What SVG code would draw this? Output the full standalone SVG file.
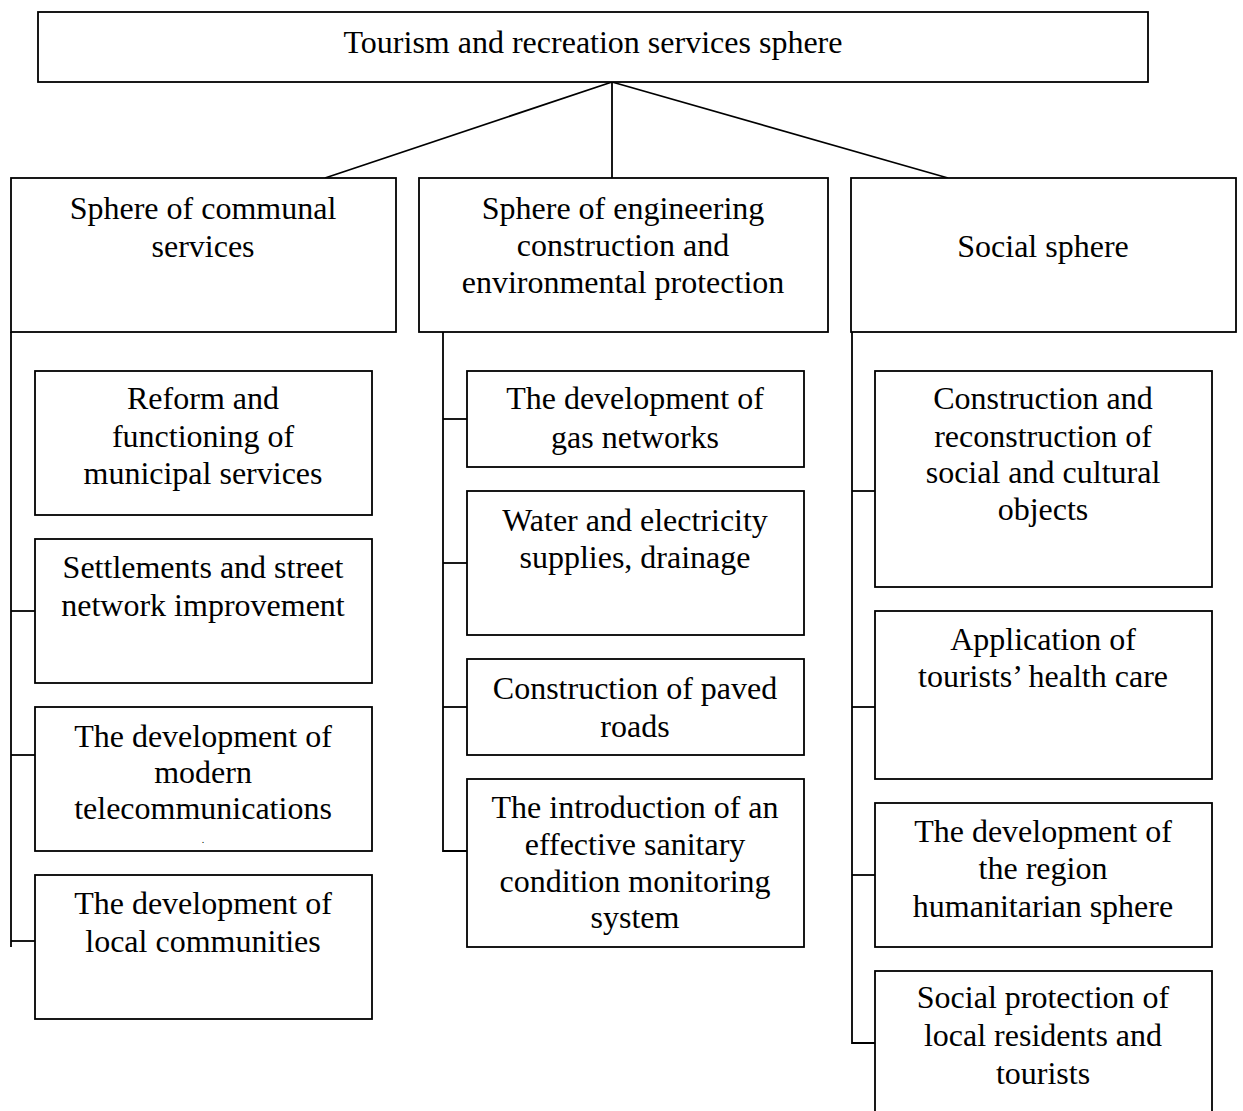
<svg xmlns="http://www.w3.org/2000/svg" width="1243" height="1111" viewBox="0 0 1243 1111">
<style>
rect{fill:#fff;stroke:#000;stroke-width:1.8}
.c line,.c path{stroke:#000;stroke-width:1.8;fill:none}
text{font-family:"Liberation Serif","Times New Roman",serif;font-size:32px;fill:#000;text-anchor:middle}
</style>
<rect width="1243" height="1111" style="fill:#fff;stroke:none"/>
<g class="c" id="connectors">
<line x1="612" y1="82" x2="325" y2="178"/>
<line x1="612" y1="82" x2="612" y2="178"/>
<line x1="612" y1="82" x2="948" y2="178"/>
<line x1="11" y1="332" x2="11" y2="947"/>
<line x1="11" y1="611" x2="35" y2="611"/>
<line x1="11" y1="755" x2="35" y2="755"/>
<line x1="11" y1="941" x2="35" y2="941"/>
<path d="M443 332V851H467"/>
<line x1="443" y1="419" x2="467" y2="419"/>
<line x1="443" y1="563" x2="467" y2="563"/>
<line x1="443" y1="707" x2="467" y2="707"/>
<path d="M852 332V1043H875"/>
<line x1="852" y1="491" x2="875" y2="491"/>
<line x1="852" y1="707" x2="875" y2="707"/>
<line x1="852" y1="875" x2="875" y2="875"/>
</g>
<g id="root"><rect x="38" y="12" width="1110" height="70"/><text x="593" y="53">Tourism and recreation services sphere</text></g>
<g id="communal"><rect x="11" y="178" width="385" height="154"/><text x="203" y="219">Sphere of communal</text><text x="203" y="257">services</text></g>
<g id="engineering"><rect x="419" y="178" width="409" height="154"/><text x="623" y="219">Sphere of engineering</text><text x="623" y="256">construction and</text><text x="623" y="293">environmental protection</text></g>
<g id="social"><rect x="851" y="178" width="385" height="154"/><text x="1043" y="257">Social sphere</text></g>
<g id="c1"><rect x="35" y="371" width="337" height="144"/><text x="203" y="409">Reform and</text><text x="203" y="447">functioning of</text><text x="203" y="484">municipal services</text></g>
<g id="c2"><rect x="35" y="539" width="337" height="144"/><text x="203" y="578">Settlements and street</text><text x="203" y="616">network improvement</text></g>
<g id="c3"><rect x="35" y="707" width="337" height="144"/><text x="203" y="747">The development of</text><text x="203" y="783">modern</text><text x="203" y="819">telecommunications</text><text x="203" y="843" style="font-size:10px">.</text></g>
<g id="c4"><rect x="35" y="875" width="337" height="144"/><text x="203" y="914">The development of</text><text x="203" y="952">local communities</text></g>
<g id="e1"><rect x="467" y="371" width="337" height="96"/><text x="635" y="409">The development of</text><text x="635" y="448">gas networks</text></g>
<g id="e2"><rect x="467" y="491" width="337" height="144"/><text x="635" y="531">Water and electricity</text><text x="635" y="568">supplies, drainage</text></g>
<g id="e3"><rect x="467" y="659" width="337" height="96"/><text x="635" y="699">Construction of paved</text><text x="635" y="737">roads</text></g>
<g id="e4"><rect x="467" y="779" width="337" height="168"/><text x="635" y="818">The introduction of an</text><text x="635" y="855">effective sanitary</text><text x="635" y="892">condition monitoring</text><text x="635" y="928">system</text></g>
<g id="s1"><rect x="875" y="371" width="337" height="216"/><text x="1043" y="409">Construction and</text><text x="1043" y="447">reconstruction of</text><text x="1043" y="483">social and cultural</text><text x="1043" y="520">objects</text></g>
<g id="s2"><rect x="875" y="611" width="337" height="168"/><text x="1043" y="650">Application of</text><text x="1043" y="687">tourists’ health care</text></g>
<g id="s3"><rect x="875" y="803" width="337" height="144"/><text x="1043" y="842">The development of</text><text x="1043" y="879">the region</text><text x="1043" y="917">humanitarian sphere</text></g>
<g id="s4"><rect x="875" y="971" width="337" height="150"/><text x="1043" y="1008">Social protection of</text><text x="1043" y="1046">local residents and</text><text x="1043" y="1084">tourists</text></g>
</svg>
